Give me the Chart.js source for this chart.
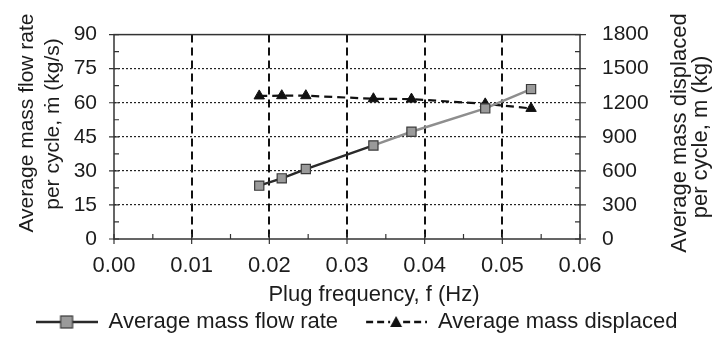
<!DOCTYPE html>
<html>
<head>
<meta charset="utf-8">
<script src="https://cdn.jsdelivr.net/npm/chart.js@4.4.1/dist/chart.umd.min.js"></script>
<style>
  html, body { margin: 0; padding: 0; background: #ffffff; }
  #wrap { width: 713px; height: 337px; position: relative; }
</style>
</head>
<body>
<div id="wrap"><canvas id="c"></canvas></div>
<script>
// ---- data ----
const plugFrequency = [0.0187, 0.0216, 0.0247, 0.0334, 0.0383, 0.0478, 0.0537];   // Hz
const massFlowRate  = [23.5, 26.7, 30.8, 41.2, 47.2, 57.5, 66.0];               // kg/s
const massDisplaced = [1260, 1262, 1262, 1235, 1232, 1190, 1150];               // kg
const xTickValues   = [0, 0.01, 0.02, 0.03, 0.04, 0.05, 0.06];
const yTickValues   = [0, 15, 30, 45, 60, 75, 90];
const y2TickValues  = [0, 300, 600, 900, 1200, 1500, 1800];
const seriesNames   = ['Average mass flow rate', 'Average mass displaced'];
const xTitle  = 'Plug frequency, f (Hz)';
const yTitle  = ['Average mass flow rate', 'per cycle, \u1E41 (kg/s)'];
const y2Title = ['Average mass displaced', 'per cycle, m (kg)'];

const FONT = "'Liberation Sans', Arial, Helvetica, sans-serif";
const TXT = '#1c1c1c';

function legendSample(kind) {
  const c = document.createElement('canvas');
  c.width = 62; c.height = 16;
  const g = c.getContext('2d');
  const cy = 8;
  if (kind === 0) {
    g.strokeStyle = '#2a2a2a'; g.lineWidth = 2.5;
    g.beginPath(); g.moveTo(0, cy); g.lineTo(62, cy); g.stroke();
    g.fillStyle = '#9a9a9a'; g.strokeStyle = '#3a3a3a'; g.lineWidth = 1.2;
    g.fillRect(25, 2, 12, 12); g.strokeRect(25, 2, 12, 12);
  } else {
    g.strokeStyle = '#111'; g.lineWidth = 2.5; g.setLineDash([7, 4]);
    g.beginPath(); g.moveTo(1, cy); g.lineTo(25, cy); g.moveTo(38, cy); g.lineTo(62, cy); g.stroke();
    g.setLineDash([]);
    g.fillStyle = '#111';
    g.beginPath(); g.moveTo(31, 2); g.lineTo(37, 13); g.lineTo(25, 13); g.closePath(); g.fill();
  }
  return c;
}
const legendImgs = [legendSample(0), legendSample(1)];

const pts1 = plugFrequency.map((f, i) => ({ x: f, y: massFlowRate[i] }));
const pts2 = plugFrequency.map((f, i) => ({ x: f, y: massDisplaced[i] }));

// frame + inner/outer tick marks, and axis titles
const decor = {
  id: 'decor',
  afterDatasetsDraw(chart) {
    const { ctx, chartArea: a, scales } = chart;
    ctx.save();
    ctx.strokeStyle = '#333'; ctx.lineWidth = 1.5; ctx.setLineDash([]);
    ctx.strokeRect(a.left, a.top, a.right - a.left, a.bottom - a.top);
    ctx.lineWidth = 1.2;
    ctx.beginPath();
    for (let k = 0; k <= 12; k++) {
      const px = scales.x.getPixelForValue(k * 0.005);
      if (k % 2 === 0) { ctx.moveTo(px, a.bottom + 5); ctx.lineTo(px, a.bottom - 5); }
      else { ctx.moveTo(px, a.bottom); ctx.lineTo(px, a.bottom - 5); }
    }
    for (let k = 0; k <= 12; k++) {
      const py = scales.y.getPixelForValue(k * 7.5);
      if (k % 2 === 0) { ctx.moveTo(a.left - 5, py); ctx.lineTo(a.left + 5, py); }
      else { ctx.moveTo(a.left, py); ctx.lineTo(a.left + 5, py); }
    }
    for (let k = 0; k <= 12; k++) {
      const py = scales.y1.getPixelForValue(k * 150);
      if (k % 2 === 0) { ctx.moveTo(a.right + 6, py); ctx.lineTo(a.right - 5, py); }
      else { ctx.moveTo(a.right, py); ctx.lineTo(a.right - 5, py); }
    }
    ctx.stroke();
    ctx.restore();
  },
  afterDraw(chart) {
    const { ctx } = chart;
    ctx.save();
    ctx.fillStyle = TXT;
    ctx.textAlign = 'center'; ctx.textBaseline = 'middle';
    ctx.font = '22px ' + FONT;
    ctx.fillText(xTitle, 374, 295);
    ctx.font = '21px ' + FONT;
    ctx.save(); ctx.translate(27, 123); ctx.rotate(-Math.PI / 2); ctx.fillText(yTitle[0], 0, 0); ctx.restore();
    ctx.save(); ctx.translate(53, 124); ctx.rotate(-Math.PI / 2); ctx.fillText(yTitle[1], 0, 0); ctx.restore();
    ctx.font = '22px ' + FONT;
    ctx.save(); ctx.translate(680, 133); ctx.rotate(-Math.PI / 2); ctx.fillText(y2Title[0], 0, 0); ctx.restore();
    ctx.save(); ctx.translate(701, 137); ctx.rotate(-Math.PI / 2); ctx.fillText(y2Title[1], 0, 0); ctx.restore();
    ctx.restore();
  }
};

const tickFont = { family: FONT, size: 21 };

new Chart(document.getElementById('c'), {
  type: 'line',
  data: {
    datasets: [
      {
        label: seriesNames[0],
        data: pts1,
        yAxisID: 'y',
        borderWidth: 2.5,
        borderColor: '#2a2a2a',
        segment: { borderColor: c => (c.p0DataIndex >= 3 ? '#8e8e8e' : '#2a2a2a') },
        pointStyle: 'rect',
        pointRadius: 6.5,
        pointHoverRadius: 6.5,
        pointBackgroundColor: '#9a9a9a',
        pointBorderColor: '#3a3a3a',
        pointBorderWidth: 1.2,
        tension: 0
      },
      {
        label: seriesNames[1],
        data: pts2,
        yAxisID: 'y1',
        borderWidth: 2.2,
        borderColor: '#111',
        borderDash: [8, 5],
        pointStyle: 'triangle',
        pointRadius: 6,
        pointHoverRadius: 6,
        pointBackgroundColor: '#111',
        pointBorderColor: '#111',
        pointBorderWidth: 1,
        tension: 0
      }
    ]
  },
  options: {
    responsive: true,
    maintainAspectRatio: false,
    animation: false,
    devicePixelRatio: 1,
    layout: { padding: { top: 15, left: 0, right: 0, bottom: -6 } },
    plugins: {
      tooltip: { enabled: false },
      legend: {
        position: 'bottom',
        labels: {
          usePointStyle: true,
          pointStyleWidth: 62,
          padding: 27,
          color: TXT,
          font: { family: FONT, size: 22 },
          generateLabels(chart) {
            const items = Chart.defaults.plugins.legend.labels.generateLabels(chart);
            return items.map((it, i) => Object.assign(it, { pointStyle: legendImgs[i], lineWidth: 0 }));
          }
        }
      }
    },
    scales: {
      x: {
        type: 'linear',
        min: 0, max: 0.06,
        afterBuildTicks: s => { s.ticks = xTickValues.map(v => ({ value: v })); },
        afterFit: s => { s.height = 45; },
        ticks: { font: { family: FONT, size: 22 }, color: TXT, padding: 14, maxRotation: 0, autoSkip: false,
                 callback: v => Number(v).toFixed(2) },
        grid: {
          drawTicks: false,
          lineWidth: 2,
          color: c => (c.tick && c.tick.value > 0.001 && c.tick.value < 0.059 ? '#111' : 'rgba(0,0,0,0)')
        },
        border: { display: false, dash: c => (c.tick ? [8, 5] : []) }
      },
      y: {
        position: 'left',
        min: 0, max: 90,
        afterBuildTicks: s => { s.ticks = yTickValues.map(v => ({ value: v })); },
        afterFit: s => { s.width = 114; },
        ticks: { font: tickFont, color: TXT, padding: 17, autoSkip: false, callback: v => String(v) },
        grid: {
          drawTicks: false,
          lineWidth: 1.2,
          color: c => (c.tick && c.tick.value > 0 && c.tick.value < 90 ? '#222' : 'rgba(0,0,0,0)')
        },
        border: { display: false, dash: c => (c.tick ? [2, 2] : []) }
      },
      y1: {
        position: 'right',
        min: 0, max: 1800,
        afterBuildTicks: s => { s.ticks = y2TickValues.map(v => ({ value: v })); },
        afterFit: s => { s.width = 133; },
        ticks: { font: tickFont, color: TXT, padding: 22, autoSkip: false, callback: v => String(v) },
        grid: { drawOnChartArea: false, drawTicks: false },
        border: { display: false }
      }
    }
  },
  plugins: [decor]
});
</script>
</body>
</html>
